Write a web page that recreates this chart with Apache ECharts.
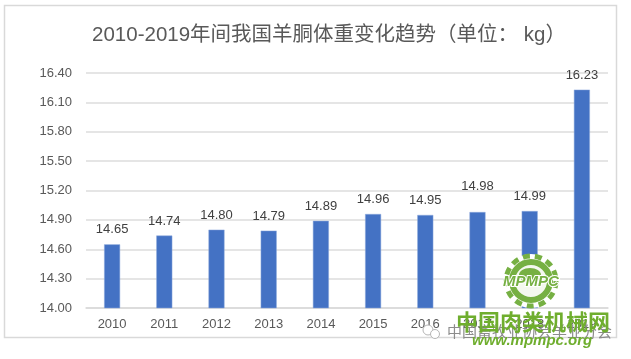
<!DOCTYPE html>
<html><head><meta charset="utf-8">
<style>html,body{margin:0;padding:0;background:#fff}#c{width:631px;height:359px}</style>
<script src="https://cdn.jsdelivr.net/npm/echarts@6/dist/echarts.min.js"></script>
</head><body><div id="c"></div>
<script>
const titleText = '2010-2019年间我国羊胴体重变化趋势（单位： kg）';
const years = ['2010','2011','2012','2013','2014','2015','2016','2017','2018','2019'];
const weights = [14.65,14.74,14.80,14.79,14.89,14.96,14.95,14.98,14.99,16.23];
const raisedLabelYears = ['2017'];
const watermarkMain = '中国肉类机械网';
const watermarkUrl = 'www.mpmpc.org';
const watermarkSociety = '中国畜牧业协会羊业分会';
const font = '"Liberation Sans","Noto Sans CJK SC",sans-serif';
const chart = echarts.init(document.getElementById('c'), null, {renderer:'canvas'});
chart.setOption({
  animation:false,
  backgroundColor:'#fff',
  title:{text:titleText,left:324,top:20,textAlign:'center',
    textStyle:{fontFamily:font,fontSize:20.5,fontWeight:'normal',color:'#595959'}},
  grid:{left:86,right:23,top:73,bottom:51},
  xAxis:{type:'category',data:years,
    axisLine:{lineStyle:{color:'#d9d9d9',width:1.5}},axisTick:{show:false},
    axisLabel:{fontFamily:font,fontSize:13,color:'#595959',margin:10}},
  yAxis:{type:'value',min:14,max:16.4,interval:0.3,
    axisLine:{show:false},axisTick:{show:false},
    splitLine:{lineStyle:{color:'#dcdcdc',width:1.5}},
    axisLabel:{fontFamily:font,fontSize:13,color:'#595959',margin:14,formatter:v=>v.toFixed(2)}},
  series:[{type:'bar',barWidth:16,
    data:weights.map((v,i)=>({value:v,label:raisedLabelYears.includes(years[i])?{distance:19}:{}})),
    itemStyle:{color:'#4472c4',borderColor:'#8faadc',borderWidth:0.5},
    label:{show:true,position:'top',distance:8,fontFamily:font,fontSize:13,color:'#404040',formatter:p=>p.value.toFixed(2)}}],
  graphic:[
    {type:'rect',silent:true,z:-1,shape:{x:4.5,y:5.5,width:612,height:332},style:{fill:'none',stroke:'#d9d9d9',lineWidth:1.5}},
    {type:'circle',z:10,silent:true,shape:{cx:531,cy:281,r:27},style:{fill:'#ffffff'}},
    {type:'circle',z:10,silent:true,shape:{cx:531,cy:281,r:25},style:{fill:'none',stroke:'#76b043',lineWidth:5,lineDash:[7,5.1]}},
    {type:'circle',z:10,silent:true,shape:{cx:531,cy:281,r:19},style:{fill:'#f4f8ef',stroke:'#76b043',lineWidth:6}},
    {type:'ellipse',z:10,silent:true,shape:{cx:530,cy:275,rx:11,ry:7},style:{fill:'#76b043'}},
    {type:'text',z:11,silent:true,style:{x:531,y:282,text:'MPMPC',align:'center',verticalAlign:'middle',fill:'#76b043',stroke:'#ffffff',lineWidth:2,font:'italic bold 15px '+font}},
    {type:'circle',z:11,silent:true,shape:{cx:428,cy:330,r:5},style:{fill:'#ffffff',stroke:'#b5b5b5',lineWidth:1}},
    {type:'circle',z:11,silent:true,shape:{cx:435,cy:334,r:4.5},style:{fill:'#ffffff',stroke:'#b5b5b5',lineWidth:1}},
    {type:'text',z:11,silent:true,style:{x:447,y:324,text:watermarkSociety,fill:'#8c8c8c',font:'15px "Noto Sans CJK SC",sans-serif'}},
    {type:'text',z:12,silent:true,style:{x:456,y:311,text:watermarkMain,fill:'#6fae2e',font:'bold 22px "Noto Sans CJK SC",sans-serif'}},
    {type:'text',z:12,silent:true,style:{x:472,y:333,text:watermarkUrl,fill:'#6fae2e',font:'italic bold 15px '+font}}
  ]
});
</script></body></html>
